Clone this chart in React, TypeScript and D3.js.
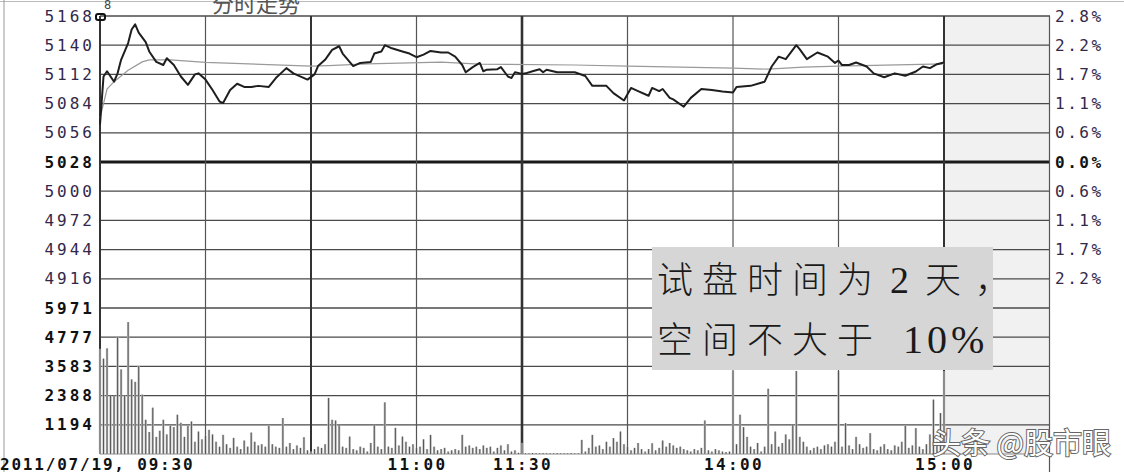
import React from 'react';
import * as d3 from 'd3';

// minute index (0 = 09:30, 120 = 11:30/13:00, 240 = 15:00), price
const pricePoints: [number, number][] = [
  [0, 5064], [1, 5110], [2, 5115], [3, 5110], [4, 5105], [5, 5113], [6, 5126], [8, 5142],
  [9, 5155], [10, 5160], [11, 5152], [13, 5143], [14, 5134], [16, 5124], [18, 5121], [19, 5127.5],
  [21, 5121], [23, 5110], [25, 5102], [27, 5112], [28, 5113], [30, 5107], [32, 5097], [34, 5086],
  [35, 5084.5], [37, 5097], [39, 5103], [41, 5100], [43, 5100], [45, 5101], [48, 5100], [50, 5108.5],
  [53, 5118], [55, 5113], [59, 5107], [61, 5112], [62, 5120], [64, 5126], [66, 5135.5], [68, 5139],
  [69, 5132], [72, 5120], [74, 5123], [77, 5124], [78, 5132], [80, 5134], [81, 5140], [83, 5137],
  [86, 5134], [88, 5132], [90, 5128.5], [92, 5131], [94, 5134.5], [97, 5133], [99, 5133], [101, 5129],
  [103, 5121], [104, 5114], [106, 5119], [108, 5123], [109, 5115], [110, 5116.5], [113, 5117], [114, 5119],
  [116, 5110], [117, 5108.5], [118, 5114], [120, 5112.5], [121, 5113], [123, 5115], [125, 5117], [126, 5114],
  [127, 5116.5], [130, 5114], [135, 5114], [138, 5110.5], [140, 5101], [144, 5101], [146, 5094], [149, 5087],
  [151, 5099], [153, 5096], [156, 5091.5], [157, 5099], [159, 5096], [160, 5098], [162, 5089.5], [163, 5088],
  [166, 5081], [168, 5089.5], [171, 5098], [174, 5097], [177, 5095.7], [180, 5094.7], [181, 5100], [185, 5101],
  [188, 5104], [189, 5105], [191, 5119.6], [193, 5129], [195, 5126.6], [198, 5140], [199, 5136], [201, 5126.6],
  [204, 5133], [207, 5129], [209, 5123], [210, 5125.3], [211, 5121], [213, 5121], [215, 5123.4], [218, 5119.6],
  [220, 5113], [223, 5109.3], [226, 5113], [229, 5110.7], [232, 5114.8], [234, 5119.6], [236, 5118], [238, 5121.8],
  [240, 5123.4],
];

const avgPoints: [number, number][] = [
  [0, 5070], [2, 5098], [4, 5105], [8, 5116], [12, 5124], [14, 5126], [20, 5126], [30, 5123.5],
  [60, 5120], [65, 5120.5], [76, 5122], [97, 5123.8], [108, 5121.8], [135, 5121], [150, 5120],
  [180, 5118], [190, 5117], [200, 5119], [210, 5120], [240, 5122],
];

// volume per minute, 0..240
const volume: number[] = [
  4300, 3900, 4320, 2388, 2388, 4777, 3460, 2400, 5394, 3050,
  2950, 3595, 2430, 1400, 900, 1894, 700, 950, 1400, 800,
  1150, 1100, 1606, 1276, 700, 1150, 1330, 500, 918, 600,
  750, 988, 800, 500, 300, 782, 400, 250, 659, 300,
  200, 550, 300, 877, 500, 350, 400, 300, 1153, 400,
  300, 250, 1470, 300, 450, 200, 350, 250, 687, 150,
  100, 200, 300, 250, 400, 2294, 1400, 1371, 1194, 300,
  250, 712, 200, 150, 300, 250, 100, 450, 1194, 300,
  200, 2112, 300, 250, 1070, 350, 712, 500, 300, 400,
  250, 300, 600, 200, 782, 300, 150, 200, 250, 100,
  150, 200, 150, 782, 300, 350, 250, 300, 200, 350,
  250, 300, 100, 250, 350, 150, 400, 100, 150, 50,
  453, 30, 30, 40, 30, 30, 40, 30, 30, 30,
  40, 30, 30, 30, 40, 30, 30, 577, 100, 250,
  782, 300, 350, 200, 500, 300, 650, 500, 918, 400,
  300, 150, 250, 450, 200, 100, 200, 440, 150, 250,
  550, 300, 450, 350, 250, 300, 200, 150, 100, 200,
  150, 250, 1371, 150, 100, 200, 150, 100, 80, 100,
  3393, 400, 1606, 1100, 700, 300, 200, 450, 100, 300,
  2669, 400, 918, 300, 450, 800, 600, 1194, 3393, 700,
  500, 300, 150, 250, 300, 200, 350, 400, 300, 500,
  3393, 300, 1261, 350, 200, 700, 400, 250, 300, 851,
  200, 150, 300, 400, 200, 150, 350, 300, 500, 1153,
  250, 350, 1057, 300, 200, 400, 800, 2224, 500, 1675,
  3393,
];

const priceTicks = [5168, 5140, 5112, 5084, 5056, 5028, 5000, 4972, 4944, 4916];
const pctLabels = ['2.8%', '2.2%', '1.7%', '1.1%', '0.6%', '0.0%', '0.6%', '1.1%', '1.7%', '2.2%'];
const volTicks = [5971, 4777, 3583, 2388, 1194];
const timeGrid = [0, 30, 60, 90, 120, 150, 180, 210, 240, 270];
const thickTimes = [0, 60, 120, 240];
const timeLabels: [number, string][] = [[90, '11:00'], [120, '11:30'], [180, '14:00'], [240, '15:00']];

const W = 1124;
const H = 472;
const mono = '"DejaVu Sans Mono", monospace';
const cjk = '"Noto Sans CJK SC", sans-serif';
const serif = '"Liberation Serif", serif';

export default function App() {
  const x = d3.scaleLinear().domain([0, 270]).range([100, 1049.5]);
  const y = d3.scaleLinear().domain([4888, 5168]).range([308, 16]);
  const yv = d3.scaleLinear().domain([0, 5971]).range([454, 308]);

  const line = d3.line<[number, number]>()
    .x(d => x(d[0]))
    .y(d => y(d[1]));

  const hLines = [...priceTicks, 4888];

  return (
    <svg width={W} height={H} style={{ position: 'absolute', left: 0, top: 0, background: '#fff' }}>
      <rect x={0} y={0} width={W} height={H} fill="#fff" />
      {/* outer frame bits */}
      <line x1={0} x2={W} y1={1.5} y2={1.5} stroke="#bbb" strokeWidth={1} />
      <line x1={4} x2={4} y1={0} y2={H} stroke="#999" strokeWidth={1} />

      {/* shaded column after close */}
      <rect x={x(240)} y={16} width={x(270) - x(240)} height={454 - 16} fill="#f1f1f1" />

      {/* horizontal grid */}
      {hLines.map(v => (
        <line key={'h' + v} x1={100} x2={1050} y1={y(v)} y2={y(v)}
          stroke={v === 5028 ? '#1a1a1a' : '#4a4a4a'} strokeWidth={v === 5028 ? 3 : 1.3} />
      ))}
      {volTicks.slice(1).map(v => (
        <line key={'vh' + v} x1={100} x2={1050} y1={yv(v)} y2={yv(v)} stroke="#4a4a4a" strokeWidth={1.3} />
      ))}
      <line x1={100} x2={1050} y1={yv(0)} y2={yv(0)} stroke="#888" strokeWidth={1.2} />

      {/* vertical grid */}
      {timeGrid.map(t => (
        <line key={'v' + t} x1={x(t)} x2={x(t)} y1={16} y2={t === 270 ? H : 454}
          stroke={thickTimes.includes(t) ? '#333' : '#555'}
          strokeWidth={thickTimes.includes(t) ? (t === 120 ? 2.6 : 2) : 1.2} />
      ))}

      {/* volume bars */}
      {volume.map((v, i) => (
        <g key={'b' + i}>
          <rect x={x(i) - 1.2} y={yv(v)} width={2.4} height={yv(0) - yv(v)} fill="#c2c2c2" />
          <line x1={x(i)} x2={x(i)} y1={yv(0)} y2={yv(v)} stroke="#555" strokeWidth={1} />
        </g>
      ))}

      {/* average and price lines */}
      <path d={line(avgPoints) || ''} fill="none" stroke="#9a9a9a" strokeWidth={1.2} />
      <path d={line(pricePoints) || ''} fill="none" stroke="#1e1e1e" strokeWidth={2} strokeLinejoin="round" />

      {/* marker at top-left corner */}
      <rect x={96} y={14} width={9} height={6} rx={2} fill="none" stroke="#111" strokeWidth={2} />
      <text x={104} y={9} fontFamily={mono} fontSize={12} fill="#444">8</text>
      <text x={212} y={12} fontFamily={cjk} fontSize={22} fill="#555">分时走势</text>

      {/* left price labels */}
      {priceTicks.map(v => (
        <text key={'pl' + v} x={95} y={y(v)} textAnchor="end" dominantBaseline="central"
          fontFamily={mono} fontSize={16} letterSpacing={3}
          fontWeight={v === 5028 ? 'bold' : 'normal'} fill={v === 5028 ? '#111' : '#33284a'}>
          {v}
        </text>
      ))}
      {/* right percent labels */}
      {pctLabels.map((s, i) => (
        <text key={'pr' + i} x={1055} y={y(priceTicks[i])} dominantBaseline="central"
          fontFamily={mono} fontSize={16} letterSpacing={2.5}
          fontWeight={i === 5 ? 'bold' : 'normal'} fill={i === 5 ? '#111' : '#33284a'}>
          {s}
        </text>
      ))}
      {/* volume labels */}
      {volTicks.map(v => (
        <text key={'vl' + v} x={95} y={yv(v)} textAnchor="end" dominantBaseline="central"
          fontFamily={mono} fontSize={16} letterSpacing={3} fontWeight="bold" fill="#111">
          {v}
        </text>
      ))}

      {/* time labels */}
      <text x={0} y={470} fontFamily={mono} fontSize={16} fontWeight="bold" letterSpacing={1.8} fill="#111">
        2011/07/19, 09:30
      </text>
      {timeLabels.map(([t, s]) => (
        <text key={'t' + t} x={x(t) + 1} y={470} textAnchor="middle" fontFamily={mono} fontSize={16}
          fontWeight="bold" letterSpacing={2.4} fill="#111">
          {s}
        </text>
      ))}

      {/* annotation box */}
      <rect x={652} y={247} width={341} height={123} fill="#d6d6d6" />
      <text y={293} fontFamily={cjk} fontSize={36} fontWeight={300} fill="#1a1a1a">
        <tspan x={657} letterSpacing={9}>试盘时间为</tspan>
        <tspan x={890} fontFamily={serif} fontSize={38}>2</tspan>
        <tspan x={925}>天</tspan>
        <tspan x={975}>，</tspan>
      </text>
      <text y={353} fontFamily={cjk} fontSize={36} fontWeight={300} fill="#1a1a1a">
        <tspan x={657} letterSpacing={9}>空间不大于</tspan>
        <tspan x={903} fontFamily={serif} fontSize={40} letterSpacing={4}>10%</tspan>
      </text>

      {/* watermark */}
      <text x={932} y={454} fontFamily={cjk} fontSize={29}
        fill="#fff" stroke="#666" strokeWidth={2} style={{ paintOrder: 'stroke' }}>
        头条 @股市眼
      </text>
    </svg>
  );
}
